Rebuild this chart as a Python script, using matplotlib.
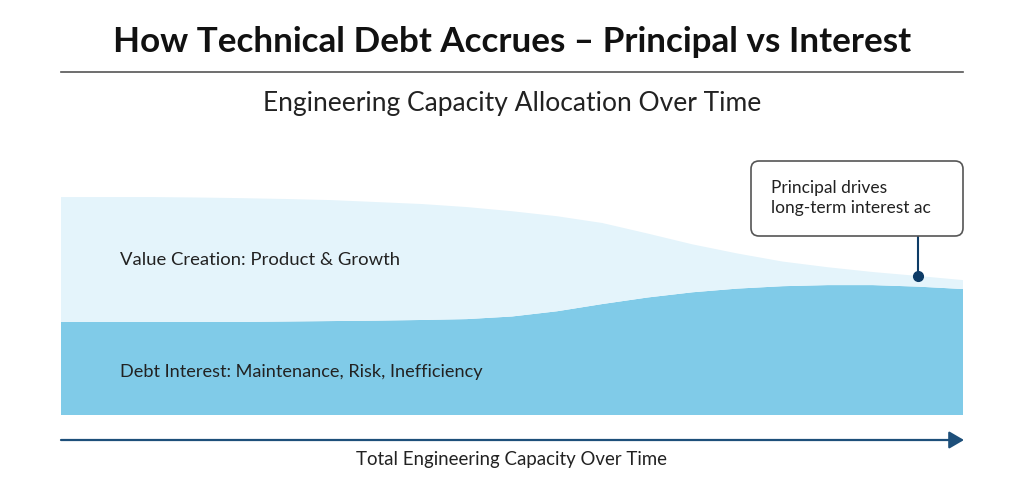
import matplotlib
matplotlib.use("Agg")
import matplotlib.pyplot as plt
from matplotlib.patches import FancyBboxPatch, FancyArrowPatch
from matplotlib.transforms import IdentityTransform

# time steps (share of capacity, 100 = full capacity at start)
time = [0, 0.5, 1, 1.5, 2, 2.5, 3, 3.5, 4, 4.5, 5, 5.5, 6, 6.5, 7, 7.5, 8, 8.5, 9, 9.5, 10]
debt_interest = [42.7, 42.7, 42.7, 42.7, 42.7, 42.9, 43.1, 43.3, 43.6, 44.0, 45.2,
                 47.6, 50.9, 53.9, 56.3, 58.0, 59.1, 59.6, 59.6, 58.9, 57.8]
value_creation = [57.3, 57.3, 57.3, 57.1, 56.8, 56.2, 55.5, 54.4, 53.2, 51.4, 48.3,
                  43.6, 37.2, 29.4, 22.0, 16.1, 11.3, 8.2, 6.0, 4.9, 4.1]

series_labels = ["Debt Interest: Maintenance, Risk, Inefficiency", "Value Creation: Product & Growth"]
callout_x = 9.5
callout_text = "Principal drives\nlong-term interest ac"

W, H = 1024, 491
plt.rcParams['font.family'] = ['Lato', 'DejaVu Sans']
fig = plt.figure(figsize=(W / 100, H / 100), dpi=100)


def fx(x):
    return x / W


def fy(y):
    return 1 - y / H


# main area chart
ax = fig.add_axes([fx(61), fy(415), fx(963) - fx(61), fy(160) - fy(415)])
ax.stackplot(time, debt_interest, value_creation,
             colors=["#80cbe8", "#e4f4fb"], linewidth=0)
ax.set_xlim(0, 10)
ax.set_ylim(0, 117)
ax.axis("off")

ax.text(0.65, 19.8, series_labels[0], fontsize=13.1, color="#222222", va="center")
ax.text(0.65, 71.3, series_labels[1], fontsize=13.3, color="#222222", va="center")

# callout line and dot
top_val = debt_interest[time.index(callout_x)] + value_creation[time.index(callout_x)]
ax.plot([callout_x, callout_x], [top_val, (415 - 236) / 2.18], color="#0d3b66", lw=1.5)
ax.plot([callout_x], [top_val], "o", color="#0d3b66", markersize=7)

# callout box (pixel coords)
box = FancyBboxPatch((751, H - 236), 212, 75, boxstyle="round,pad=0,rounding_size=8",
                     transform=IdentityTransform(), facecolor="white",
                     edgecolor="#555555", lw=1.2)
fig.patches.append(box)
fig.text(fx(771), fy(198), callout_text, fontsize=12.5, color="#222222",
         va="center", ha="left", linespacing=1.3)

# titles
fig.text(0.5, fy(42), "How Technical Debt Accrues \u2013 Principal vs Interest",
         ha="center", va="center", fontsize=25.2, fontweight="bold", color="#111111")
fig.add_artist(plt.Line2D([fx(61), fx(963)], [fy(72), fy(72)], color="#555555", lw=1.2))
fig.text(0.5, fy(103), "Engineering Capacity Allocation Over Time",
         ha="center", va="center", fontsize=19, color="#222222")

# x axis arrow
arrow = FancyArrowPatch((fx(61), fy(440)), (fx(964), fy(440)), transform=fig.transFigure,
                        arrowstyle="-|>,head_length=6,head_width=3.5", color="#1d4f7a",
                        lw=1.6, mutation_scale=1.5, shrinkA=0, shrinkB=0)
fig.add_artist(arrow)
fig.text(0.5, fy(460), "Total Engineering Capacity Over Time",
         ha="center", va="center", fontsize=13.4, color="#222222")

fig.savefig("out.png", dpi=100)
